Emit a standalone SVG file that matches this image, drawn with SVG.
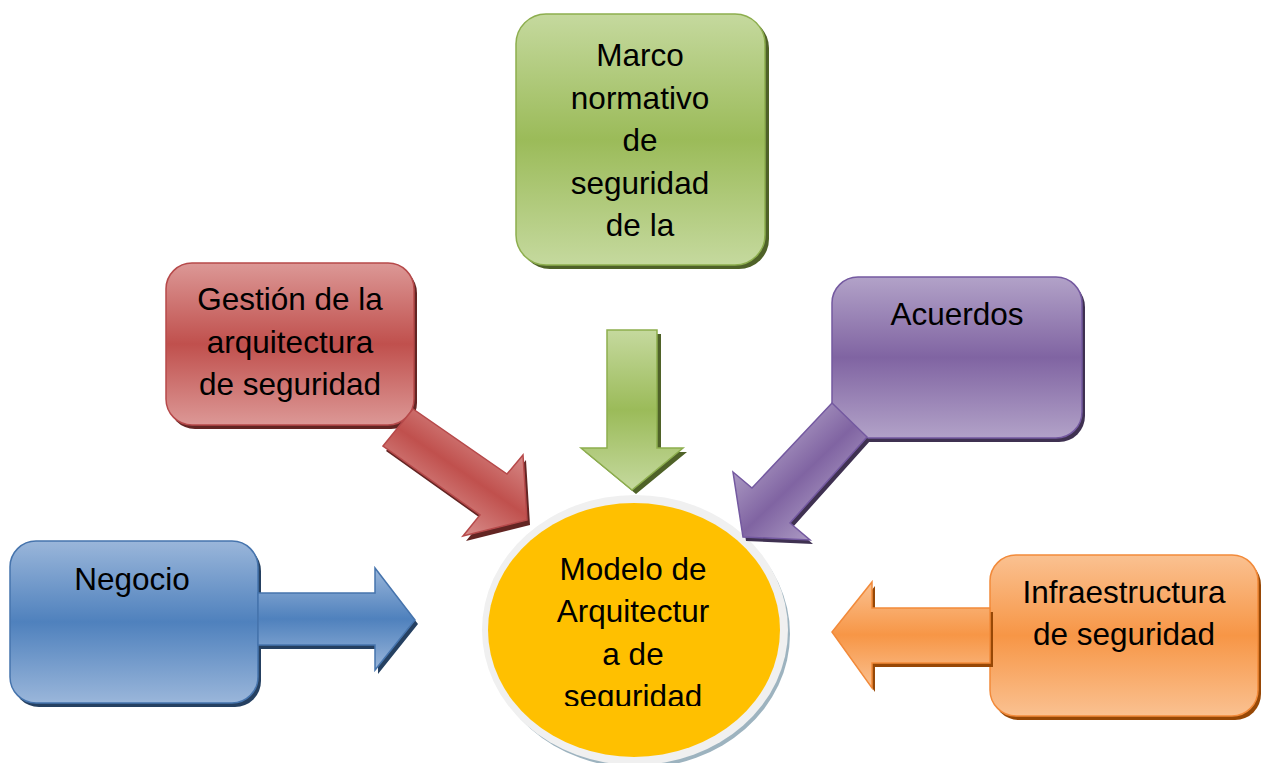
<svg xmlns="http://www.w3.org/2000/svg" width="1264" height="763" viewBox="0 0 1264 763">
<style>
text{font-family:"Liberation Sans",Arial,sans-serif;font-size:31.5px;fill:#000;text-anchor:middle}
</style>
<defs>
<linearGradient id="gBlue" x1="0" y1="0" x2="0" y2="1"><stop offset="0" stop-color="#9AB6DA"/><stop offset="0.5" stop-color="#4F81BD"/><stop offset="1" stop-color="#9AB6DA"/></linearGradient>
<linearGradient id="gRed" x1="0" y1="0" x2="0" y2="1"><stop offset="0" stop-color="#DC9896"/><stop offset="0.5" stop-color="#C0504D"/><stop offset="1" stop-color="#DC9896"/></linearGradient>
<linearGradient id="gGreen" x1="0" y1="0" x2="0" y2="1"><stop offset="0" stop-color="#C5D99E"/><stop offset="0.5" stop-color="#9BBB59"/><stop offset="1" stop-color="#C5D99E"/></linearGradient>
<linearGradient id="gPurple" x1="0" y1="0" x2="0" y2="1"><stop offset="0" stop-color="#B2A2C8"/><stop offset="0.5" stop-color="#8064A2"/><stop offset="1" stop-color="#B2A2C8"/></linearGradient>
<linearGradient id="gOrange" x1="0" y1="0" x2="0" y2="1"><stop offset="0" stop-color="#FAC191"/><stop offset="0.5" stop-color="#F79646"/><stop offset="1" stop-color="#FAC191"/></linearGradient>
<linearGradient id="gRedArrow" gradientUnits="userSpaceOnUse" x1="523" y1="440" x2="455" y2="540"><stop offset="0" stop-color="#DC9896"/><stop offset="0.5" stop-color="#C0504D"/><stop offset="1" stop-color="#DC9896"/></linearGradient>
<linearGradient id="gPurpleArrow" gradientUnits="userSpaceOnUse" x1="733" y1="460" x2="815" y2="545"><stop offset="0" stop-color="#B2A2C8"/><stop offset="0.5" stop-color="#8064A2"/><stop offset="1" stop-color="#B2A2C8"/></linearGradient>
<clipPath id="circleClip"><rect x="480" y="530" width="310" height="176"/></clipPath>
</defs>

<g id="node-negocio">
<rect x="13" y="545" width="248" height="162" rx="26" fill="#254061"/>
<rect x="10" y="541" width="248" height="162" rx="26" fill="url(#gBlue)" stroke="#4674AD" stroke-width="1.5"/>
<text x="132" y="590">Negocio</text>
</g>

<g id="node-gestion">
<rect x="169" y="267" width="248" height="162" rx="26" fill="#632523"/>
<rect x="166" y="263" width="248" height="162" rx="26" fill="url(#gRed)" stroke="#B6494A" stroke-width="1.5"/>
<text x="290" y="310">Gestión de la</text>
<text x="290" y="352.5">arquitectura</text>
<text x="290" y="395">de seguridad</text>
</g>

<g id="node-marco">
<rect x="520" y="18" width="249" height="251" rx="30" fill="#4F6228"/>
<rect x="516" y="14" width="249" height="251" rx="30" fill="url(#gGreen)" stroke="#8DAE4E" stroke-width="1.5"/>
<text x="640" y="66">Marco</text>
<text x="640" y="108.5">normativo</text>
<text x="640" y="151">de</text>
<text x="640" y="193.5">seguridad</text>
<text x="640" y="236">de la</text>
</g>

<g id="node-acuerdos">
<rect x="835" y="281" width="250" height="161" rx="26" fill="#3F3151"/>
<rect x="832" y="277" width="250" height="161" rx="26" fill="url(#gPurple)" stroke="#7459A0" stroke-width="1.5"/>
<text x="957" y="325">Acuerdos</text>
</g>

<g id="node-infra">
<rect x="993" y="559" width="268" height="161" rx="26" fill="#974806"/>
<rect x="990" y="555" width="268" height="161" rx="26" fill="url(#gOrange)" stroke="#F28A3A" stroke-width="1.5"/>
<text x="1124" y="603">Infraestructura</text>
<text x="1124" y="645">de seguridad</text>
</g>

<g id="node-modelo">
<ellipse cx="638" cy="634" rx="152" ry="134" fill="#9DB3BF"/>
<ellipse cx="635" cy="630" rx="153" ry="135" fill="#F0F0F0"/>
<ellipse cx="634" cy="630" rx="146" ry="127" fill="#FFC000"/>
<g clip-path="url(#circleClip)">
<text x="633" y="580">Modelo de</text>
<text x="633" y="622">Arquitectur</text>
<text x="633" y="665">a de</text>
<text x="633" y="707">seguridad</text>
</g>
</g>

<g id="connectors">
<g id="arrow-negocio">
<polygon points="261,597 378,597 378,573 418,624 378,674 378,649 261,649" fill="#254061"/>
<polygon points="258,593 375,593 375,568 415,620 375,670 375,645 258,645" fill="url(#gBlue)" stroke="#4674AD" stroke-width="1.5"/>
</g>
<g id="arrow-gestion">
<polygon points="386,451 416,414 510,479 526,460 530,525 466,541 483,520" fill="#632523"/>
<polygon points="383,446 413,409 507,474 523,455 527,520 463,536 480,515" fill="url(#gRedArrow)" stroke="#B6494A" stroke-width="1.5"/>
</g>
<g id="arrow-marco">
<polygon points="611,334 661,334 661,452 687,452 636,494 585,452 611,452" fill="#4F6228"/>
<polygon points="607,330 657,330 657,448 683,448 632,490 581,448 607,448" fill="url(#gGreen)" stroke="#8DAE4E" stroke-width="1.5"/>
</g>
<g id="arrow-acuerdos">
<polygon points="835,407 870,441 793,527 813,544 746,541 736,476 755,492" fill="#3F3151"/>
<polygon points="832,403 867,437 790,523 810,540 743,537 733,472 752,488" fill="url(#gPurpleArrow)" stroke="#7459A0" stroke-width="1.5"/>
</g>
<g id="arrow-infra">
<polygon points="993,612 875,612 875,586 835,636 875,692 875,667 993,667" fill="#974806"/>
<polygon points="990,608 872,608 872,582 832,632 872,688 872,663 990,663" fill="url(#gOrange)" stroke="#F28A3A" stroke-width="1.5"/>
</g>
</g>
</svg>
